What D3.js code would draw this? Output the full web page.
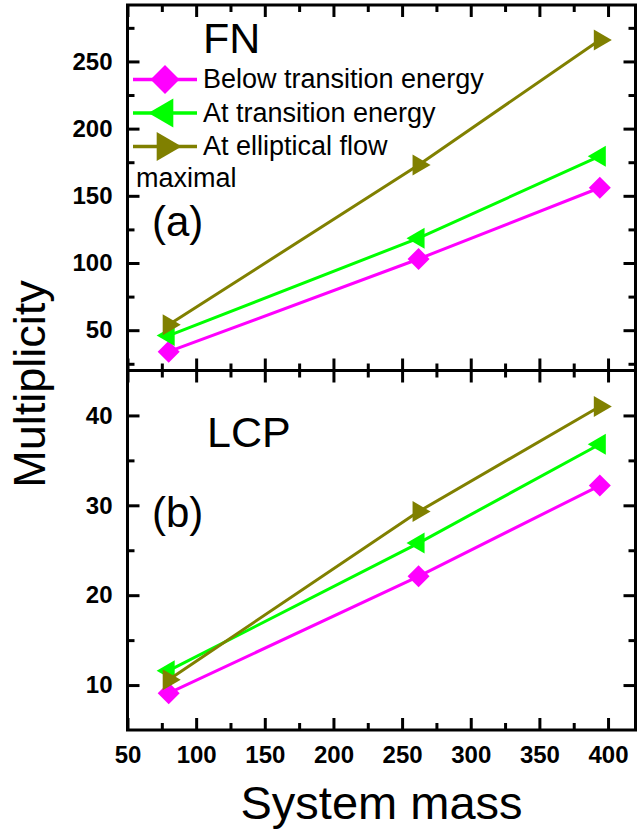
<!DOCTYPE html>
<html>
<head>
<meta charset="utf-8">
<script src="https://cdn.jsdelivr.net/npm/d3@7"></script>
<style>
  html, body { margin: 0; padding: 0; background: #fff; }
  svg { display: block; }
  text { font-family: "Liberation Sans", Arial, sans-serif; }
</style>
</head>
<body>
<svg id="chart" width="637" height="833"></svg>
<script>
// System masses of the colliding systems
const systemMass = [80, 262, 394];

// Fragment (FN) multiplicities
const fnBelow = [34, 103, 156];
const fnAtTransition = [46, 118.5, 179.5];
const fnEllipticalMax = [54, 173, 266];

// Light charged particle (LCP) multiplicities
const lcpBelow = [9.1, 22.1, 32.2];
const lcpAtTransition = [11.6, 25.8, 36.8];
const lcpEllipticalMax = [10.6, 29.3, 41.0];

const seriesNames = ["Below transition energy", "At transition energy", "At elliptical flow"];
const seriesColors = ["#ff00ff", "#00ff00", "#808000"];
const seriesSymbols = ["diamond", "triLeft", "triRight"];

const xTicks = [50, 100, 150, 200, 250, 300, 350, 400];
const xMinorTicks = [75, 125, 175, 225, 275, 325, 375];
const fnTicks = [50, 100, 150, 200, 250];
const fnMinorTicks = [25, 75, 125, 175, 225, 275];
const lcpTicks = [10, 20, 30, 40];
const lcpMinorTicks = [15, 25, 35];

const svg = d3.select("#chart");

const left = 127.5, right = 635.5;
const x = d3.scaleLinear().domain([50, 420]).range([left, right]);
const yTop = d3.scaleLinear().domain([20, 292]).range([370.5, 5]);
const yBot = d3.scaleLinear().domain([5, 45]).range([730, 370.5]);

// marker path generators, centred on the centroid
function symbolPath(type, s) {
  if (type === "diamond") {
    const r = s / 2;
    return `M0,${-r}L${r},0L0,${r}L${-r},0Z`;
  }
  const w = s * 0.86, h = s;
  if (type === "triLeft") {
    return `M${-2 * w / 3},0L${w / 3},${-h / 2}L${w / 3},${h / 2}Z`;
  }
  return `M${2 * w / 3},0L${-w / 3},${-h / 2}L${-w / 3},${h / 2}Z`;
}

function drawPanel(yScale, majors, minors, seriesList, showXLabels) {
  const g = svg.append("g");
  const yr = yScale.range();
  const top = yr[1], bottom = yr[0];

  // inward ticks on all four sides
  const sides = [
    { make: () => d3.axisBottom(x), pos: `translate(0,${bottom})`, major: xTicks, minor: xMinorTicks, labels: showXLabels, pad: 16 },
    { make: () => d3.axisTop(x), pos: `translate(0,${top})`, major: xTicks, minor: xMinorTicks, labels: false, pad: 16 },
    { make: () => d3.axisLeft(yScale), pos: `translate(${left},0)`, major: majors, minor: minors, labels: true, pad: 15 },
    { make: () => d3.axisRight(yScale), pos: `translate(${right},0)`, major: majors, minor: minors, labels: false, pad: 15 }
  ];
  sides.forEach(side => {
    const mk = (vals, size, lab) => {
      const axis = side.make()
        .tickValues(vals).tickSize(-size).tickSizeOuter(0).tickPadding(side.pad)
        .tickFormat(lab ? d3.format("d") : "");
      const ag = g.append("g").attr("transform", side.pos).call(axis);
      ag.select(".domain").remove();
      ag.selectAll(".tick line").attr("stroke", "#000").attr("stroke-width", 3);
      ag.selectAll(".tick text")
        .attr("fill", "#000")
        .style("font-size", "24px")
        .style("font-weight", "bold")
        .style("font-family", "'Liberation Sans', Arial, sans-serif");
    };
    mk(side.major, 12, side.labels);
    mk(side.minor, 7, false);
  });

  // frame
  g.append("rect")
    .attr("x", left).attr("y", top)
    .attr("width", right - left).attr("height", bottom - top)
    .attr("fill", "none").attr("stroke", "#000").attr("stroke-width", 3);

  // series: line first, then its markers
  const line = d3.line().x((d, i) => x(systemMass[i])).y(d => yScale(d));
  seriesList.forEach((vals, k) => {
    const sg = g.append("g");
    sg.append("path")
      .attr("d", line(vals))
      .attr("fill", "none")
      .attr("stroke", seriesColors[k])
      .attr("stroke-width", 3);
    sg.selectAll("path.mark").data(vals).enter().append("path")
      .attr("class", "mark")
      .attr("d", symbolPath(seriesSymbols[k], seriesSymbols[k] === "diamond" ? 22 : 21))
      .attr("transform", (d, i) => `translate(${x(systemMass[i])},${yScale(d)})`)
      .attr("fill", seriesColors[k]);
  });
  return g;
}

drawPanel(yTop, fnTicks, fnMinorTicks, [fnBelow, fnAtTransition, fnEllipticalMax], false);
drawPanel(yBot, lcpTicks, lcpMinorTicks, [lcpBelow, lcpAtTransition, lcpEllipticalMax], true);

// legend in the FN panel
const legend = svg.append("g");
const legendRowY = [79.5, 113, 146.5];
seriesNames.forEach((name, k) => {
  const cy = legendRowY[k];
  legend.append("line")
    .attr("x1", 133).attr("x2", 197).attr("y1", cy).attr("y2", cy)
    .attr("stroke", seriesColors[k]).attr("stroke-width", 3.5);
  legend.append("path")
    .attr("d", symbolPath(seriesSymbols[k], 29))
    .attr("transform", `translate(165,${cy})`)
    .attr("fill", seriesColors[k]);
  legend.append("text")
    .attr("x", 203).attr("y", cy + 8.5)
    .style("font-size", "27px")
    .text(name);
});
legend.append("text").attr("x", 136).attr("y", 187)
  .style("font-size", "27px").text("maximal");

// panel titles and labels
svg.append("text").attr("x", 203).attr("y", 53).style("font-size", "43px").text("FN");
svg.append("text").attr("x", 152).attr("y", 236).style("font-size", "42px").text("(a)");
svg.append("text").attr("x", 207).attr("y", 447).style("font-size", "43px").text("LCP");
svg.append("text").attr("x", 152).attr("y", 527).style("font-size", "42px").text("(b)");

// axis titles
svg.append("text")
  .attr("x", (left + right) / 2).attr("y", 819)
  .attr("text-anchor", "middle")
  .style("font-size", "47px")
  .text("System mass");
svg.append("text")
  .attr("transform", "translate(45,384) rotate(-90)")
  .attr("text-anchor", "middle")
  .style("font-size", "45px")
  .text("Multiplicity");
</script>
</body>
</html>
